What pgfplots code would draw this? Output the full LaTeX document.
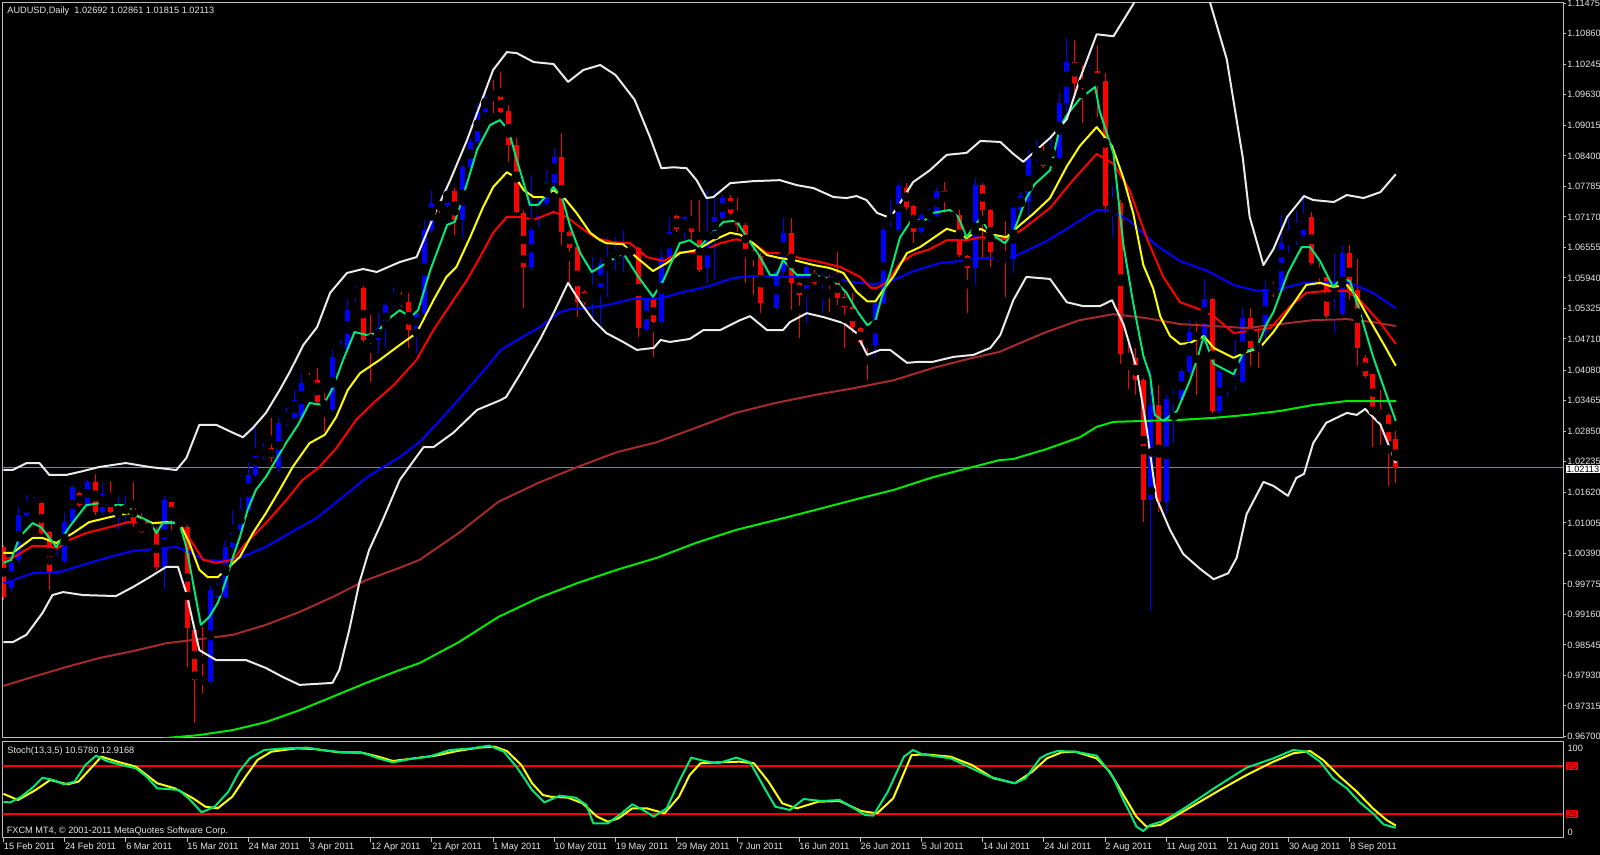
\documentclass[border=0pt]{standalone}
\usepackage{fontspec}
\setmainfont{Liberation Sans}
\usepackage{pgfplots}
\usepackage{pgfplotstable}
\pgfplotsset{compat=1.18}

\definecolor{bull}{RGB}{0,0,255}
\definecolor{bear}{RGB}{255,0,0}
\definecolor{emaA}{RGB}{0,232,120}
\definecolor{emaB}{RGB}{255,255,0}
\definecolor{emaC}{RGB}{255,0,0}
\definecolor{emaD}{RGB}{0,0,255}
\definecolor{maH}{RGB}{165,42,42}
\definecolor{maT}{RGB}{0,235,0}
\definecolor{band}{RGB}{235,235,235}
\definecolor{frame}{RGB}{192,192,192}
\definecolor{txt}{RGB}{230,230,230}
\definecolor{pline}{RGB}{119,136,153}
\newcommand\mtfont{\fontsize{4.6}{5}\selectfont}

% daily AUDUSD candles, i = bar number from 15 Feb 2011
\pgfplotstableread{
i o h l c
0 1.0052 1.0056 0.9945 0.9951
1 0.9969 1.0026 0.9961 1.0020
2 1.0026 1.0132 1.0020 1.0116
3 1.0116 1.0157 1.0112 1.0143
4 1.0132 1.0153 1.0128 1.0140
5 1.0140 1.0142 1.0076 1.0080
6 1.0082 1.0084 0.9965 1.0001
7 1.0001 1.0052 0.9995 1.0024
8 1.0024 1.0120 1.0020 1.0102
9 1.0102 1.0177 1.0100 1.0173
10 1.0161 1.0163 1.0132 1.0136
11 1.0136 1.0187 1.0132 1.0183
12 1.0183 1.0199 1.0116 1.0122
13 1.0122 1.0181 1.0116 1.0159
14 1.0159 1.0185 1.0120 1.0122
15 1.0122 1.0153 1.0086 1.0132
16 1.0122 1.0157 1.0096 1.0138
17 1.0140 1.0183 1.0092 1.0100
18 1.0100 1.0120 1.0080 1.0082
19 1.0082 1.0106 1.0078 1.0092
20 1.0086 1.0092 1.0005 1.0011
21 1.0011 1.0155 0.9965 1.0147
22 1.0143 1.0143 1.0086 1.0106
23 1.0102 1.0110 1.0090 1.0098
24 1.0092 1.0096 0.9810 0.9889
25 0.9885 0.9889 0.9697 0.9784
26 0.9786 0.9891 0.9758 0.9780
27 0.9780 0.9975 0.9776 0.9965
28 0.9951 0.9979 0.9949 0.9971
29 0.9951 1.0066 0.9951 1.0052
30 1.0052 1.0126 1.0048 1.0086
31 1.0086 1.0153 1.0082 1.0126
32 1.0126 1.0223 1.0122 1.0197
33 1.0197 1.0294 1.0193 1.0251
34 1.0237 1.0261 1.0227 1.0251
35 1.0251 1.0312 1.0223 1.0231
36 1.0211 1.0312 1.0201 1.0302
37 1.0302 1.0334 1.0294 1.0314
38 1.0312 1.0368 1.0308 1.0348
39 1.0314 1.0402 1.0314 1.0382
40 1.0392 1.0402 1.0378 1.0384
41 1.0388 1.0412 1.0338 1.0344
42 1.0346 1.0362 1.0284 1.0332
43 1.0328 1.0449 1.0324 1.0435
44 1.0435 1.0469 1.0433 1.0451
45 1.0451 1.0549 1.0449 1.0529
46 1.0557 1.0578 1.0545 1.0574
47 1.0574 1.0578 1.0465 1.0469
48 1.0475 1.0519 1.0384 1.0469
49 1.0469 1.0523 1.0443 1.0493
50 1.0493 1.0543 1.0455 1.0539
51 1.0539 1.0576 1.0535 1.0556
52 1.0552 1.0566 1.0535 1.0543
53 1.0545 1.0564 1.0453 1.0489
54 1.0489 1.0525 1.0443 1.0523
55 1.0523 1.0711 1.0519 1.0691
56 1.0691 1.0771 1.0685 1.0745
57 1.0745 1.0751 1.0725 1.0737
58 1.0741 1.0785 1.0737 1.0767
59 1.0769 1.0775 1.0681 1.0711
60 1.0711 1.0822 1.0674 1.0817
61 1.0817 1.0876 1.0815 1.0868
62 1.0868 1.0946 1.0864 1.0928
63 1.0928 1.0973 1.0924 1.0959
64 1.0969 1.0993 1.0926 1.0959
65 1.0961 1.1009 1.0926 1.0928
66 1.0930 1.0942 1.0828 1.0862
67 1.0862 1.0876 1.0725 1.0727
68 1.0725 1.0731 1.0533 1.0616
69 1.0616 1.0801 1.0610 1.0691
70 1.0717 1.0757 1.0697 1.0745
71 1.0745 1.0811 1.0741 1.0785
72 1.0785 1.0856 1.0777 1.0838
73 1.0838 1.0886 1.0660 1.0687
74 1.0687 1.0691 1.0584 1.0654
75 1.0656 1.0656 1.0515 1.0545
76 1.0566 1.0570 1.0539 1.0545
77 1.0545 1.0636 1.0505 1.0560
78 1.0560 1.0636 1.0499 1.0624
79 1.0624 1.0676 1.0556 1.0632
80 1.0636 1.0676 1.0610 1.0646
81 1.0644 1.0691 1.0606 1.0650
82 1.0650 1.0660 1.0638 1.0646
83 1.0654 1.0656 1.0475 1.0493
84 1.0491 1.0554 1.0485 1.0549
85 1.0549 1.0552 1.0435 1.0505
86 1.0505 1.0650 1.0501 1.0636
87 1.0636 1.0717 1.0632 1.0687
88 1.0719 1.0721 1.0687 1.0693
89 1.0693 1.0719 1.0670 1.0717
90 1.0717 1.0751 1.0670 1.0687
91 1.0685 1.0751 1.0606 1.0610
92 1.0614 1.0771 1.0584 1.0681
93 1.0681 1.0771 1.0590 1.0717
94 1.0715 1.0761 1.0711 1.0755
95 1.0755 1.0761 1.0721 1.0725
96 1.0727 1.0755 1.0687 1.0701
97 1.0701 1.0705 1.0584 1.0644
98 1.0644 1.0656 1.0560 1.0634
99 1.0638 1.0644 1.0523 1.0543
100 1.0523 1.0539 1.0519 1.0535
101 1.0533 1.0610 1.0529 1.0606
102 1.0606 1.0715 1.0600 1.0685
103 1.0685 1.0715 1.0529 1.0584
104 1.0584 1.0586 1.0473 1.0560
105 1.0560 1.0626 1.0503 1.0616
106 1.0604 1.0610 1.0580 1.0584
107 1.0584 1.0602 1.0523 1.0596
108 1.0590 1.0600 1.0525 1.0584
109 1.0590 1.0646 1.0539 1.0554
110 1.0556 1.0570 1.0453 1.0535
111 1.0535 1.0564 1.0483 1.0495
112 1.0493 1.0495 1.0459 1.0463
113 1.0465 1.0467 1.0388 1.0459
114 1.0459 1.0545 1.0435 1.0543
115 1.0543 1.0697 1.0539 1.0691
116 1.0685 1.0751 1.0681 1.0691
117 1.0691 1.0785 1.0687 1.0779
118 1.0775 1.0785 1.0731 1.0737
119 1.0739 1.0741 1.0664 1.0687
120 1.0687 1.0725 1.0683 1.0721
121 1.0715 1.0735 1.0707 1.0727
122 1.0721 1.0775 1.0717 1.0769
123 1.0769 1.0787 1.0725 1.0751
124 1.0715 1.0727 1.0711 1.0721
125 1.0721 1.0731 1.0636 1.0640
126 1.0638 1.0640 1.0523 1.0614
127 1.0614 1.0795 1.0580 1.0781
128 1.0781 1.0785 1.0636 1.0731
129 1.0731 1.0733 1.0616 1.0646
130 1.0636 1.0650 1.0626 1.0642
131 1.0642 1.0709 1.0556 1.0636
132 1.0632 1.0739 1.0604 1.0735
133 1.0731 1.0767 1.0727 1.0759
134 1.0747 1.0852 1.0701 1.0836
135 1.0838 1.0872 1.0828 1.0844
136 1.0840 1.0868 1.0815 1.0819
137 1.0819 1.0876 1.0817 1.0836
138 1.0836 1.0967 1.0834 1.0946
139 1.0946 1.1077 1.0926 1.1029
140 1.1029 1.1073 1.0967 1.0987
141 1.0989 1.1023 1.0906 1.0983
142 1.1003 1.1023 1.0997 1.1011
143 1.1011 1.1063 1.0918 1.0987
144 1.0991 1.1007 1.0727 1.0739
145 1.0743 1.0779 1.0676 1.0751
146 1.0745 1.0751 1.0421 1.0441
147 1.0441 1.0465 1.0370 1.0429
148 1.0433 1.0453 1.0358 1.0388
149 1.0388 1.0392 1.0102 1.0147
150 1.0147 1.0408 0.9923 1.0338
151 1.0338 1.0378 1.0122 1.0143
152 1.0143 1.0358 1.0118 1.0350
153 1.0348 1.0368 1.0261 1.0352
154 1.0350 1.0410 1.0344 1.0406
155 1.0404 1.0509 1.0400 1.0485
156 1.0485 1.0503 1.0358 1.0469
157 1.0469 1.0592 1.0461 1.0552
158 1.0552 1.0554 1.0322 1.0326
159 1.0326 1.0408 1.0322 1.0404
160 1.0376 1.0388 1.0358 1.0384
161 1.0382 1.0469 1.0370 1.0390
162 1.0384 1.0533 1.0382 1.0513
163 1.0513 1.0533 1.0417 1.0453
164 1.0457 1.0493 1.0413 1.0453
165 1.0485 1.0588 1.0469 1.0572
166 1.0580 1.0586 1.0556 1.0568
167 1.0568 1.0721 1.0566 1.0664
168 1.0664 1.0717 1.0644 1.0676
169 1.0674 1.0731 1.0660 1.0681
170 1.0681 1.0755 1.0676 1.0717
171 1.0717 1.0727 1.0620 1.0624
172 1.0612 1.0624 1.0580 1.0600
173 1.0596 1.0596 1.0513 1.0517
174 1.0517 1.0644 1.0481 1.0523
175 1.0521 1.0660 1.0517 1.0644
176 1.0644 1.0660 1.0549 1.0570
177 1.0570 1.0632 1.0417 1.0453
178 1.0433 1.0439 1.0392 1.0396
179 1.0400 1.0400 1.0253 1.0326
180 1.0326 1.0368 1.0257 1.0314
181 1.0318 1.0322 1.0175 1.0265
182 1.02692 1.02861 1.01815 1.02113
}\candles

\begin{document}
\begin{tikzpicture}
\useasboundingbox (0,0) rectangle (800pt,427.5pt);
\clip (0,0) rectangle (800pt,427.5pt);
\fill[black] (0,0) rectangle (800pt,427.5pt);

% ---------------- price window ----------------
\begin{axis}[
  at={(1.25pt,58.5pt)}, anchor=south west, scale only axis,
  width=780.25pt, height=367.5pt,
  xmin=-0.13, xmax=203.86, ymin=0.9667, ymax=1.1148,
  axis line style={draw=frame, line width=0.5pt},
  xtick=\empty,
  ytick pos=right, yticklabel pos=right, scaled y ticks=false,
  ytick={0.96700,0.97315,0.97930,0.98545,0.99160,0.99775,1.00390,1.01005,1.01620,1.02235,1.02850,1.03465,1.04080,1.04710,1.05325,1.05940,1.06555,1.07170,1.07785,1.08400,1.09015,1.09630,1.10245,1.10860,1.11475},
  yticklabels={0.96700,0.97315,0.97930,0.98545,0.99160,0.99775,1.00390,1.01005,1.01620,1.02235,1.02850,1.03465,1.04080,1.04710,1.05325,1.05940,1.06555,1.07170,1.07785,1.08400,1.09015,1.09630,1.10245,1.10860,1.11475},
  tick align=outside, major tick length=1.5pt,
  tick style={draw=frame, line width=0.5pt},
  yticklabel style={font=\mtfont, text=txt, anchor=west, inner sep=0pt, xshift=0.5pt},
  line join=round,
]
% bid line
\addplot[pline, line width=0.5pt] coordinates {(-0.13,1.02113) (203.86,1.02113)};

% wicks
\addplot[only marks, mark=none, error bars/.cd, y dir=both, y explicit, error mark=none,
  error bar style={line width=0.5pt, bull}]
  table[x=i, y expr={\thisrow{c}>=\thisrow{o} ? (\thisrow{h}+\thisrow{l})/2 : nan},
        y error expr={(\thisrow{h}-\thisrow{l})/2}] {\candles};
\addplot[only marks, mark=none, error bars/.cd, y dir=both, y explicit, error mark=none,
  error bar style={line width=0.5pt, bear}]
  table[x=i, y expr={\thisrow{c}<\thisrow{o} ? (\thisrow{h}+\thisrow{l})/2 : nan},
        y error expr={(\thisrow{h}-\thisrow{l})/2}] {\candles};
% bodies
\addplot[only marks, mark=none, error bars/.cd, y dir=both, y explicit, error mark=none,
  error bar style={line width=2.5pt, bull}]
  table[x=i, y expr={\thisrow{c}>=\thisrow{o} ? (\thisrow{o}+\thisrow{c})/2 : nan},
        y error expr={max(abs(\thisrow{c}-\thisrow{o})/2,0.00012)}] {\candles};
\addplot[only marks, mark=none, error bars/.cd, y dir=both, y explicit, error mark=none,
  error bar style={line width=2.5pt, bear}]
  table[x=i, y expr={\thisrow{c}<\thisrow{o} ? (\thisrow{o}+\thisrow{c})/2 : nan},
        y error expr={max(abs(\thisrow{c}-\thisrow{o})/2,0.00012)}] {\candles};

% MA 200
\addplot[maT, line width=1pt] coordinates {(20.0,0.9661) (21.3,0.9667) (25.6,0.9673) (30.0,0.9683) (34.3,0.9699) (38.7,0.9723) (43.0,0.9750) (47.4,0.9778) (51.8,0.9804) (54.4,0.9818) (59.5,0.9860) (64.7,0.9911) (69.9,0.9949) (75.0,0.9979) (80.2,1.0006) (85.4,1.0030) (90.5,1.0060) (95.7,1.0086) (100.9,1.0106) (106.0,1.0126) (111.2,1.0147) (116.4,1.0167) (121.6,1.0193) (126.7,1.0213) (130.2,1.0227) (132.0,1.0229) (136.3,1.0249) (140.7,1.0273) (142.9,1.0294) (145.1,1.0304) (149.4,1.0306) (153.8,1.0308) (158.2,1.0312) (162.5,1.0318) (166.9,1.0326) (171.2,1.0338) (175.6,1.0346) (182.0,1.0346)};
% MA 100
\addplot[maH, line width=1pt] coordinates {(0,0.9772) (3.8,0.9790) (8.2,0.9810) (12.5,0.9828) (16.9,0.9842) (21.3,0.9858) (25.6,0.9866) (30.0,0.9875) (34.3,0.9895) (38.7,0.9921) (43.0,0.9951) (47.4,0.9985) (51.8,1.0010) (54.4,1.0026) (59.5,1.0080) (64.7,1.0143) (69.9,1.0181) (75.0,1.0213) (80.2,1.0243) (85.4,1.0263) (90.5,1.0292) (95.7,1.0322) (100.9,1.0342) (106.0,1.0358) (111.2,1.0372) (116.4,1.0388) (121.6,1.0413) (126.7,1.0433) (130.2,1.0445) (132.0,1.0457) (136.3,1.0485) (140.7,1.0509) (145.1,1.0521) (149.4,1.0513) (153.8,1.0501) (158.2,1.0497) (162.5,1.0493) (166.9,1.0501) (171.2,1.0509) (175.6,1.0511) (179.0,1.0505) (182.0,1.0497)};
% blue MA
\addplot[emaD, line width=1pt] coordinates {(0,0.9979) (1.2,0.9985) (3.8,0.9999) (7.3,1.0001) (10.4,1.0016) (13.9,1.0032) (16.9,1.0044) (20.0,1.0048) (22.6,1.0052) (24.3,1.0042) (26.1,1.0026) (28.2,1.0024) (30.9,1.0030) (34.3,1.0052) (37.4,1.0080) (40.9,1.0110) (43.9,1.0147) (47.4,1.0191) (49.2,1.0209) (51.8,1.0233) (54.5,1.0265) (57.1,1.0308) (60.0,1.0358) (63.2,1.0415) (65.0,1.0449) (67.6,1.0473) (70.1,1.0495) (72.7,1.0525) (74.1,1.0531) (76.2,1.0533) (78.8,1.0539) (82.3,1.0552) (85.8,1.0552) (88.4,1.0564) (91.9,1.0576) (95.4,1.0594) (98.0,1.0598) (101.5,1.0596) (105.0,1.0596) (108.5,1.0594) (111.5,1.0584) (113.7,1.0582) (115.5,1.0584) (119.0,1.0608) (122.4,1.0624) (125.0,1.0628) (127.7,1.0634) (132.0,1.0636) (136.3,1.0668) (139.0,1.0693) (142.9,1.0731) (144.6,1.0731) (147.2,1.0709) (150.7,1.0660) (153.8,1.0628) (157.4,1.0608) (160.8,1.0580) (163.8,1.0568) (166.9,1.0572) (170.0,1.0584) (173.4,1.0586) (176.0,1.0584) (179.0,1.0564) (182.0,1.0533)};
% red MA
\addplot[emaC, line width=1pt] coordinates {(0,1.0028) (1.2,1.0030) (3.8,1.0054) (5.6,1.0054) (7.1,1.0050) (8.6,1.0066) (10.8,1.0080) (13.9,1.0092) (16.3,1.0102) (18.6,1.0100) (23.0,1.0100) (24.7,1.0060) (26.1,1.0026) (27.8,1.0020) (30.0,1.0026) (31.7,1.0060) (34.3,1.0100) (37.0,1.0147) (39.1,1.0187) (41.3,1.0213) (43.5,1.0251) (46.1,1.0308) (48.5,1.0344) (51.0,1.0378) (54.0,1.0429) (56.2,1.0489) (58.8,1.0549) (60.6,1.0590) (62.3,1.0636) (64.0,1.0685) (65.8,1.0717) (67.6,1.0717) (69.3,1.0711) (71.9,1.0727) (73.6,1.0717) (75.5,1.0695) (77.5,1.0674) (79.7,1.0666) (81.9,1.0664) (84.1,1.0636) (86.3,1.0628) (88.4,1.0646) (91.0,1.0646) (93.7,1.0664) (95.8,1.0672) (98.0,1.0664) (99.8,1.0644) (101.9,1.0644) (104.1,1.0634) (106.8,1.0626) (109.4,1.0616) (112.0,1.0596) (113.4,1.0574) (114.2,1.0574) (115.5,1.0586) (117.2,1.0624) (119.0,1.0642) (121.1,1.0652) (123.3,1.0670) (125.9,1.0670) (127.7,1.0676) (131.1,1.0672) (133.3,1.0693) (136.8,1.0735) (139.8,1.0791) (142.9,1.0844) (145.1,1.0824) (147.2,1.0771) (149.4,1.0676) (151.6,1.0596) (153.8,1.0545) (156.0,1.0533) (158.2,1.0517) (160.8,1.0483) (163.8,1.0489) (165.6,1.0493) (168.2,1.0537) (170.3,1.0564) (173.0,1.0568) (175.6,1.0568) (177.3,1.0549) (179.9,1.0505) (182.0,1.0461)};
% yellow MA
\addplot[emaB, line width=1pt] coordinates {(0,1.0040) (1.2,1.0040) (3.8,1.0070) (5.1,1.0070) (6.9,1.0060) (9.1,1.0080) (11.2,1.0102) (13.9,1.0112) (16.3,1.0120) (17.8,1.0112) (19.5,1.0100) (21.3,1.0102) (23.0,1.0100) (24.3,1.0060) (25.6,1.0006) (26.7,0.9991) (28.0,0.9991) (29.5,1.0012) (30.9,1.0032) (32.6,1.0080) (34.3,1.0120) (36.1,1.0167) (37.8,1.0213) (40.0,1.0261) (42.0,1.0278) (43.5,1.0314) (45.0,1.0368) (46.6,1.0402) (49.2,1.0429) (51.8,1.0459) (54.0,1.0483) (56.2,1.0549) (57.9,1.0596) (59.2,1.0616) (61.0,1.0676) (62.7,1.0737) (64.0,1.0777) (65.8,1.0807) (66.9,1.0797) (68.0,1.0771) (69.3,1.0757) (70.6,1.0757) (71.9,1.0771) (73.2,1.0757) (74.9,1.0725) (76.7,1.0685) (78.0,1.0670) (78.8,1.0664) (81.0,1.0662) (82.7,1.0636) (84.9,1.0608) (86.7,1.0624) (88.4,1.0644) (90.6,1.0650) (92.8,1.0670) (95.0,1.0685) (96.3,1.0681) (98.0,1.0664) (99.8,1.0640) (101.5,1.0634) (103.3,1.0630) (105.9,1.0620) (108.0,1.0614) (109.8,1.0604) (111.5,1.0566) (112.9,1.0547) (114.0,1.0547) (115.0,1.0570) (116.3,1.0596) (118.1,1.0644) (119.8,1.0656) (121.5,1.0674) (123.3,1.0693) (124.6,1.0687) (125.9,1.0674) (127.7,1.0693) (129.4,1.0681) (131.1,1.0676) (132.9,1.0701) (134.6,1.0723) (136.8,1.0755) (139.0,1.0819) (140.7,1.0860) (142.9,1.0898) (144.9,1.0860) (146.4,1.0795) (147.7,1.0723) (149.0,1.0620) (150.3,1.0572) (151.2,1.0517) (152.5,1.0477) (153.8,1.0461) (155.1,1.0463) (156.9,1.0477) (158.2,1.0453) (160.8,1.0433) (162.5,1.0445) (164.2,1.0453) (166.0,1.0485) (168.2,1.0533) (170.3,1.0580) (172.1,1.0584) (173.8,1.0576) (175.6,1.0580) (176.9,1.0556) (178.6,1.0509) (180.4,1.0461) (182.0,1.0417)};
% fast MA
\addplot[emaA, line width=1pt] coordinates {(0,1.0020) (1.0,1.0026) (2.1,1.0072) (3.8,1.0100) (4.9,1.0092) (6.9,1.0052) (8.6,1.0092) (10.8,1.0136) (12.5,1.0140) (13.9,1.0136) (16.0,1.0136) (17.8,1.0112) (19.1,1.0102) (20.0,1.0080) (20.8,1.0100) (23.0,1.0100) (23.9,1.0052) (25.8,0.9895) (26.9,0.9911) (28.0,0.9939) (29.1,0.9985) (30.0,1.0032) (30.9,1.0072) (31.9,1.0126) (33.0,1.0167) (34.3,1.0193) (35.6,1.0227) (37.0,1.0263) (38.5,1.0298) (40.0,1.0342) (41.8,1.0338) (43.1,1.0374) (44.4,1.0429) (45.9,1.0485) (47.5,1.0479) (48.8,1.0483) (50.1,1.0509) (51.8,1.0529) (53.2,1.0515) (54.2,1.0529) (55.8,1.0610) (58.0,1.0701) (59.0,1.0707) (60.6,1.0785) (61.9,1.0852) (63.6,1.0902) (64.9,1.0912) (66.0,1.0892) (67.1,1.0832) (68.0,1.0785) (68.8,1.0741) (69.9,1.0741) (71.9,1.0777) (73.0,1.0757) (74.1,1.0697) (75.4,1.0644) (76.9,1.0606) (78.8,1.0624) (81.0,1.0644) (83.0,1.0596) (84.9,1.0556) (86.3,1.0590) (88.4,1.0664) (89.7,1.0670) (91.0,1.0656) (92.8,1.0687) (94.1,1.0707) (95.8,1.0709) (97.2,1.0676) (98.9,1.0636) (100.2,1.0600) (101.1,1.0600) (101.9,1.0630) (103.7,1.0600) (105.9,1.0600) (108.5,1.0590) (110.2,1.0564) (111.5,1.0529) (112.9,1.0499) (114.0,1.0509) (114.8,1.0556) (115.9,1.0604) (117.2,1.0676) (118.9,1.0715) (120.2,1.0707) (121.5,1.0725) (123.7,1.0731) (124.8,1.0717) (125.9,1.0676) (127.7,1.0715) (128.9,1.0685) (130.9,1.0664) (132.0,1.0685) (133.7,1.0755) (134.8,1.0783) (136.8,1.0811) (138.1,1.0898) (139.0,1.0922) (140.7,1.0955) (142.7,1.0979) (143.3,1.0930) (145.1,1.0844) (146.4,1.0660) (147.7,1.0541) (149.0,1.0437) (149.9,1.0396) (150.5,1.0318) (151.6,1.0306) (153.4,1.0326) (155.1,1.0388) (156.0,1.0429) (156.9,1.0477) (158.2,1.0421) (160.8,1.0400) (162.1,1.0445) (163.8,1.0453) (165.1,1.0501) (166.0,1.0525) (167.9,1.0604) (169.7,1.0656) (170.8,1.0656) (172.1,1.0628) (173.8,1.0576) (174.9,1.0592) (176.0,1.0588) (177.3,1.0525) (179.0,1.0437) (180.6,1.0366) (182.0,1.0306)};
% Bollinger upper
\addplot[band, line width=1pt] coordinates {(0,1.0207) (1.2,1.0207) (3.0,1.0221) (4.7,1.0221) (6.0,1.0197) (8.2,1.0197) (9.9,1.0203) (12.5,1.0213) (16.0,1.0221) (19.1,1.0213) (22.6,1.0207) (23.9,1.0231) (25.6,1.0298) (27.8,1.0298) (30.0,1.0282) (31.3,1.0273) (32.6,1.0292) (34.3,1.0322) (36.1,1.0368) (37.4,1.0404) (39.2,1.0459) (41.0,1.0495) (42.7,1.0564) (44.9,1.0604) (47.0,1.0612) (48.8,1.0606) (51.8,1.0626) (54.0,1.0636) (56.2,1.0717) (58.4,1.0791) (60.6,1.0872) (62.7,1.0959) (64.0,1.1013) (65.8,1.1049) (67.1,1.1047) (69.3,1.1029) (71.9,1.1025) (73.8,1.0989) (75.8,1.1013) (78.0,1.1023) (80.0,1.1003) (82.5,1.0953) (84.5,1.0878) (86.0,1.0815) (87.6,1.0817) (89.3,1.0815) (90.6,1.0791) (91.9,1.0755) (92.8,1.0757) (95.0,1.0785) (98.0,1.0789) (101.5,1.0791) (103.7,1.0781) (105.9,1.0775) (108.5,1.0757) (110.2,1.0755) (111.5,1.0759) (112.8,1.0751) (114.2,1.0725) (115.9,1.0715) (117.2,1.0745) (118.9,1.0787) (121.1,1.0811) (123.3,1.0842) (125.9,1.0846) (127.7,1.0870) (130.3,1.0868) (132.0,1.0844) (133.3,1.0828) (136.8,1.0876) (139.0,1.0914) (140.7,1.0995) (142.9,1.1085) (145.1,1.1081) (147.7,1.1146) (150.0,1.1220) (153.0,1.1290) (156.0,1.1250) (157.7,1.1150) (159.9,1.1035) (162.0,1.0836) (162.9,1.0717) (164.7,1.0620) (166.0,1.0652) (167.8,1.0717) (170.0,1.0759) (171.2,1.0751) (173.9,1.0747) (175.6,1.0761) (177.8,1.0755) (180.0,1.0767) (182.0,1.0803)};
% Bollinger lower
\addplot[band, line width=1pt] coordinates {(0,0.9860) (1.2,0.9860) (3.0,0.9875) (5.1,0.9919) (6.4,0.9955) (7.8,0.9961) (10.4,0.9955) (14.7,0.9953) (16.9,0.9971) (19.1,0.9991) (21.3,1.0012) (22.8,1.0012) (23.9,0.9959) (25.6,0.9844) (27.8,0.9824) (31.7,0.9824) (34.3,0.9808) (36.5,0.9790) (38.7,0.9774) (43.0,0.9778) (43.9,0.9804) (45.2,0.9885) (46.5,0.9979) (47.8,1.0046) (49.4,1.0100) (51.8,1.0187) (54.9,1.0253) (56.2,1.0253) (58.8,1.0282) (61.9,1.0328) (65.0,1.0348) (65.7,1.0354) (67.6,1.0402) (70.1,1.0469) (71.9,1.0523) (73.8,1.0584) (75.4,1.0545) (77.1,1.0509) (78.8,1.0483) (81.0,1.0465) (82.8,1.0449) (85.0,1.0453) (85.9,1.0469) (87.1,1.0465) (89.7,1.0471) (91.5,1.0489) (93.7,1.0489) (96.3,1.0509) (97.6,1.0517) (99.8,1.0489) (101.9,1.0489) (102.8,1.0505) (105.0,1.0523) (107.2,1.0515) (109.8,1.0503) (111.5,1.0483) (112.9,1.0439) (114.6,1.0449) (115.9,1.0449) (118.1,1.0423) (119.8,1.0425) (121.5,1.0425) (124.2,1.0435) (126.8,1.0439) (129.0,1.0453) (130.3,1.0479) (132.0,1.0549) (133.7,1.0596) (136.8,1.0592) (139.0,1.0545) (141.2,1.0537) (143.3,1.0537) (144.9,1.0549) (146.4,1.0501) (148.1,1.0413) (149.4,1.0294) (150.7,1.0151) (152.5,1.0086) (154.2,1.0038) (156.4,1.0008) (158.2,0.9987) (160.1,0.9999) (161.2,1.0030) (162.5,1.0118) (164.7,1.0183) (166.0,1.0175) (167.9,1.0155) (169.0,1.0191) (170.0,1.0199) (171.2,1.0261) (172.9,1.0302) (175.6,1.0322) (176.9,1.0318) (178.0,1.0330) (180.0,1.0298) (182.0,1.0221)};
\end{axis}

% ---------------- stochastic window ----------------
\begin{axis}[
  at={(1.25pt,8.5pt)}, anchor=south west, scale only axis,
  width=780.25pt, height=48pt,
  xmin=-0.13, xmax=203.86, ymin=0, ymax=100,
  axis line style={draw=frame, line width=0.5pt},
  ytick=\empty,
  xtick pos=left,
  xtick={0,8,...,176},
  xticklabels={15 Feb 2011,24 Feb 2011,6 Mar 2011,15 Mar 2011,24 Mar 2011,3 Apr 2011,12 Apr 2011,21 Apr 2011,1 May 2011,10 May 2011,19 May 2011,29 May 2011,7 Jun 2011,16 Jun 2011,26 Jun 2011,5 Jul 2011,14 Jul 2011,24 Jul 2011,2 Aug 2011,11 Aug 2011,21 Aug 2011,30 Aug 2011,8 Sep 2011},
  tick align=outside, major tick length=2pt,
  tick style={draw=frame, line width=0.5pt},
  xticklabel style={font=\mtfont, text=txt, anchor=north west, inner sep=0pt, yshift=-0.3pt},
  line join=round,
]
\addplot[red, line width=1pt] coordinates {(-0.13,75) (203.86,75)};
\addplot[red, line width=1pt] coordinates {(-0.13,25) (203.86,25)};
% %D
\addplot[emaB, line width=1pt] coordinates {(0,46) (1.9,39.6) (4.2,50) (6.1,60.4) (8.4,55.9) (9.8,58.7) (11.2,70.8) (12.8,84.7) (14.9,79.5) (17.3,74.3) (20.1,57) (22.4,51.7) (24.8,41.3) (26.4,32.6) (28.0,30.9) (29.9,43) (31.8,65.6) (33.2,81.2) (35.0,89.9) (38.3,93.4) (40.6,92.7) (43.9,89.2) (46.7,89.2) (49.0,84.7) (50.9,80.2) (53.7,83) (56.5,85.8) (59.3,90.6) (62.1,94.1) (64.2,95.1) (65.8,90.6) (67.7,76) (69.1,57) (70.5,44.8) (71.5,43) (73.8,42) (75.7,36.1) (77.6,22.2) (79.0,17) (80.4,20.5) (82.2,30.9) (84.1,30.9) (86.4,25.7) (88.3,43) (89.7,65.6) (91.1,77.8) (93.4,78.8) (96.2,79.5) (98.1,77.8) (100.0,58.7) (101.8,36.1) (103.7,30.9) (106.5,37.8) (109.3,38.5) (112.1,28.1) (114.2,25.7) (116.3,41.3) (118.7,86.4) (120.5,87.1) (123.8,84.7) (126.6,76) (129.4,62.2) (132.2,57) (134.5,69.1) (136.4,83) (138.3,89.2) (140.1,89.9) (142.9,83) (144.6,69.1) (146.4,44.8) (148.1,22.2) (149.4,11.8) (151.2,13.5) (153.8,25.7) (156.4,37.8) (159.0,50) (162.5,65.6) (166.0,79.5) (168.6,88.2) (170.8,90.6) (172.5,81.2) (174.7,63.9) (176.9,48.3) (179.0,30.9) (180.8,18.7) (182.0,12.92)};
% %K
\addplot[emaA, line width=1pt] coordinates {(0,37.5) (0.9,37.1) (2.3,43) (3.7,51.7) (5.1,62.8) (6.5,60.4) (7.9,55.9) (9.3,58.7) (10.7,76) (12.1,85.8) (13.5,80.2) (15.4,76) (17.3,72.6) (18.7,63.9) (20.1,51.7) (21.5,51) (22.9,50) (24.3,40.6) (25.9,26.7) (27.6,32.6) (29.4,48.3) (30.8,69.1) (32.2,83) (34.1,91.7) (36.9,93.4) (39.7,94.1) (41.6,91.7) (44.4,89.2) (47.2,88.2) (49.0,83) (50.9,78.8) (53.2,82.3) (55.6,84.7) (58.4,91.7) (61.2,93.4) (63.5,96.2) (65.4,90) (67.2,72.6) (69.1,50) (70.7,37.1) (72.7,44.1) (74.8,42) (76.2,34.4) (77.1,15.3) (79.0,15.3) (80.8,25.7) (82.2,35.1) (83.6,29.2) (85.0,22.2) (86.7,30.9) (88.3,58.7) (89.9,83.7) (91.6,80.2) (93.4,77.8) (95.8,83.7) (97.6,78.8) (99.5,51.7) (100.9,32.6) (102.8,29.2) (104.6,40.6) (107.0,38.5) (109.3,39.6) (111.2,30.9) (112.6,23.9) (113.7,23.3) (115.6,48.3) (117.7,84.7) (118.9,91.7) (120.1,87.1) (123.8,83) (126.1,74.3) (128.9,63.9) (132.2,57) (133.6,62.2) (135.5,83) (136.4,87.1) (137.8,90.6) (140.1,89.9) (142.9,85.8) (144.2,72.6) (145.1,62.2) (146.4,39.6) (147.2,26.7) (148.1,11.8) (149.0,7.3) (149.9,13.5) (151.6,17.7) (153.8,28.1) (156.0,39.6) (158.1,51) (160.3,62.2) (162.5,73.3) (166.0,83) (168.6,91.7) (170.3,89.9) (172.1,79.5) (173.8,62.2) (175.6,51.7) (177.3,37.1) (179.0,25.7) (180.4,14.2) (182.0,10.58)};
\end{axis}

% ---------------- window texts ----------------
\node[anchor=west, font=\mtfont, text=txt, inner sep=0pt] at (3.5pt,422.1pt) {AUDUSD,Daily\ \ 1.02692 1.02861 1.01815 1.02113};
\node[anchor=west, font=\mtfont, text=txt, inner sep=0pt] at (3.5pt,51.9pt) {Stoch(13,3,5) 10.5780 12.9168};
\node[anchor=west, font=\mtfont, text=txt, inner sep=0pt] at (3.2pt,11.7pt) {FXCM MT4, © 2001-2011 MetaQuotes Software Corp.};
\node[anchor=west, font=\mtfont, fill=white, text=black, inner sep=0.5pt] at (782.6pt,193pt) {1.02113};
\node[anchor=west, font=\mtfont, text=txt, inner sep=0pt] at (783.6pt,53.3pt) {100};
\node[anchor=west, font=\mtfont, text=txt, inner sep=0pt] at (783.6pt,11.2pt) {0};
\node[anchor=west, font=\mtfont, fill=red, text=black!75!red, inner sep=0.4pt] at (782.8pt,44.5pt) {75};
\node[anchor=west, font=\mtfont, fill=red, text=black!75!red, inner sep=0.4pt] at (782.8pt,20.5pt) {25};
\end{tikzpicture}
\end{document}
